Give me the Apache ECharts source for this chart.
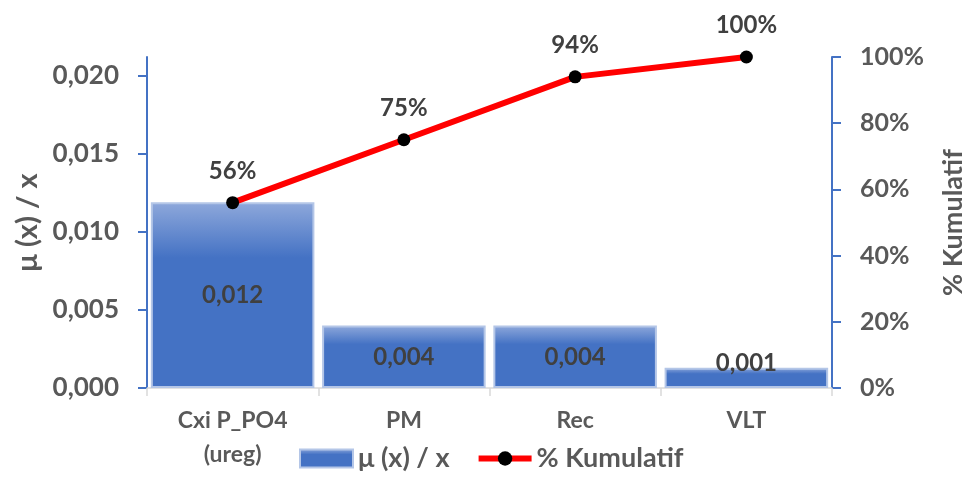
<!DOCTYPE html>
<html>
<head>
<meta charset="utf-8">
<script src="https://cdn.jsdelivr.net/npm/echarts@6/dist/echarts.min.js"></script>
<style>
  html, body { margin: 0; padding: 0; background: #ffffff; }
  #chart { width: 965px; height: 478px; }
</style>
</head>
<body>
<div id="chart"></div>
<script>
// Pareto data: relative uncertainty contribution per source
const categories = ['Cxi P_PO4\n(ureg)', 'PM', 'Rec', 'VLT'];
const contribution = [0.0119, 0.0040, 0.0040, 0.0013];
const cumulative = [0.56, 0.75, 0.94, 1.00];
const leftTicks = [0, 0.005, 0.010, 0.015, 0.020];
const leftMax = 0.0212;
const rightTicks = [0, 0.2, 0.4, 0.6, 0.8, 1.0];

const FONT = 'Lato';
const AXIS_BLUE = '#4472C4';
const GREY_TEXT = '#595959';

const fmtComma = (v, d) => v.toFixed(d).replace('.', ',');

// Bars too short for a centred label get their label nudged upward.
const barData = contribution.map(v =>
  v < 0.002 ? { value: v, label: { offset: [0, -15] } } : v
);

const chart = echarts.init(document.getElementById('chart'), null, { renderer: 'canvas' });

chart.setOption({
  backgroundColor: '#ffffff',
  animation: false,
  textStyle: { fontFamily: FONT },
  grid: { left: 147, right: 133, top: 57, bottom: 90, outerBoundsMode: 'none', containLabel: false },
  legend: {
    bottom: 1,
    left: 294,
    itemGap: 26,
    itemWidth: 53,
    itemHeight: 18,
    textStyle: { fontFamily: FONT, fontSize: 27, fontWeight: 'bold', color: GREY_TEXT },
    data: [
      { name: 'μ (x) / x', icon: 'rect', itemStyle: { borderColor: '#b4c6e7', borderWidth: 2 } },
      { name: '% Kumulatif', lineStyle: { width: 6, color: '#ff0000' } }
    ]
  },
  xAxis: {
    type: 'category',
    data: categories,
    axisLine: { lineStyle: { color: '#d9d9d9', width: 1.5 } },
    axisTick: { show: true, alignWithLabel: false, length: 8, lineStyle: { color: '#d9d9d9', width: 1.5 } },
    axisLabel: {
      color: GREY_TEXT, fontFamily: FONT, fontSize: 23, fontWeight: 'bold',
      margin: 16, lineHeight: 34
    }
  },
  yAxis: [
    {
      type: 'value',
      min: 0,
      max: leftMax,
      name: 'μ (x) / x',
      nameLocation: 'middle',
      nameGap: 100,
      nameRotate: 90,
      nameTextStyle: { color: GREY_TEXT, fontFamily: FONT, fontSize: 29, fontWeight: 'bold' },
      splitLine: { show: false },
      axisLine: { show: true, lineStyle: { color: AXIS_BLUE, width: 2 } },
      axisTick: { show: true, length: 9, customValues: leftTicks, lineStyle: { color: AXIS_BLUE, width: 2 } },
      axisLabel: {
        customValues: leftTicks,
        color: GREY_TEXT, fontFamily: FONT, fontSize: 26, fontWeight: 'bold', margin: 28,
        formatter: v => fmtComma(v, 3)
      }
    },
    {
      type: 'value',
      min: 0,
      max: 1,
      interval: 0.2,
      position: 'right',
      name: '% Kumulatif',
      nameLocation: 'middle',
      nameGap: 108,
      nameRotate: 90,
      nameTextStyle: { color: GREY_TEXT, fontFamily: FONT, fontSize: 27, fontWeight: 'bold' },
      splitLine: { show: false },
      axisLine: { show: true, lineStyle: { color: AXIS_BLUE, width: 2 } },
      axisTick: { show: true, length: 9, customValues: rightTicks, lineStyle: { color: AXIS_BLUE, width: 2 } },
      axisLabel: {
        customValues: rightTicks,
        color: GREY_TEXT, fontFamily: FONT, fontSize: 25, fontWeight: 'bold', margin: 28,
        formatter: v => Math.round(v * 100) + '%'
      }
    }
  ],
  series: [
    {
      name: 'μ (x) / x',
      type: 'bar',
      yAxisIndex: 0,
      data: barData,
      barCategoryGap: '4.5%',
      itemStyle: {
        color: new echarts.graphic.LinearGradient(0, 0, 0, 1, [
          { offset: 0, color: '#8ea8db' },
          { offset: 0.3, color: '#4472C4' },
          { offset: 1, color: '#4472C4' }
        ]),
        borderColor: '#b4c6e7',
        borderWidth: 2
      },
      label: {
        show: true,
        position: 'inside',
        color: '#404040',
        fontFamily: FONT,
        fontSize: 24,
        fontWeight: 'bold',
        formatter: p => fmtComma(p.value, 3)
      },
      z: 2
    },
    {
      name: '% Kumulatif',
      type: 'line',
      yAxisIndex: 1,
      data: cumulative,
      symbol: 'circle',
      symbolSize: 13,
      lineStyle: { color: '#ff0000', width: 6 },
      itemStyle: { color: '#000000' },
      label: {
        show: true,
        position: 'top',
        distance: 13,
        color: '#404040',
        fontFamily: FONT,
        fontSize: 24,
        fontWeight: 'bold',
        formatter: p => Math.round(p.value * 100) + '%'
      },
      z: 3
    }
  ]
});
</script>
</body>
</html>
